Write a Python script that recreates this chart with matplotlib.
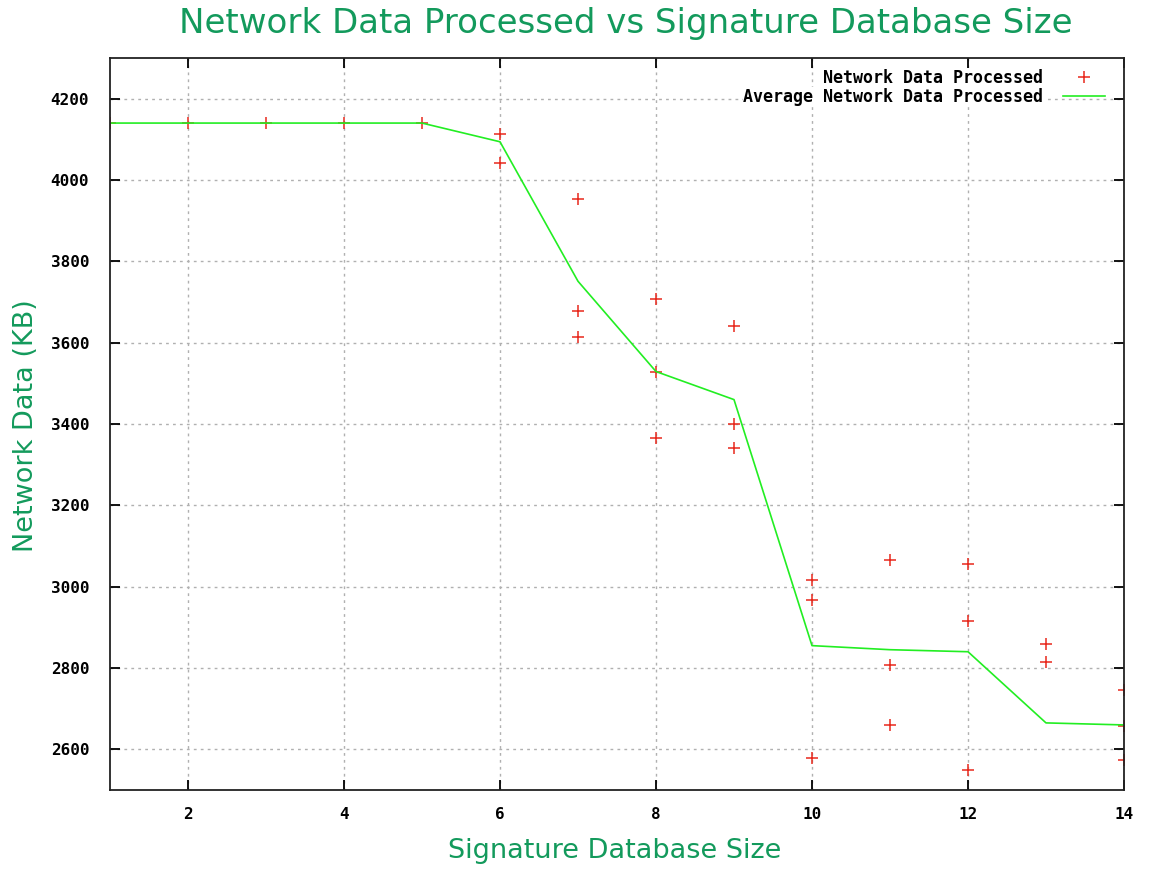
import matplotlib
matplotlib.use('Agg')
import matplotlib.pyplot as plt

# Signature database sizes and the measured network data (KB) for each run
sizes = [1, 2, 3, 4, 5, 6, 6, 7, 7, 7, 8, 8, 8, 9, 9, 9,
         10, 10, 10, 11, 11, 11, 12, 12, 12, 13, 13, 14, 14, 14]
data_kb = [4140, 4140, 4140, 4140, 4140, 4114, 4043, 3954, 3677, 3614,
           3708, 3527, 3365, 3640, 3400, 3342, 3017, 2967, 2579,
           3066, 2808, 2660, 3056, 2915, 2549, 2858, 2815, 2747, 2657, 2575]

# Average per database size
avg_sizes = [1, 2, 3, 4, 5, 6, 7, 8, 9, 10, 11, 12, 13, 14]
avg_kb = [4140, 4140, 4140, 4140, 4140, 4094, 3751, 3529, 3460,
          2855, 2845, 2840, 2665, 2660]

x_ticks = [2, 4, 6, 8, 10, 12, 14]
y_ticks = [2600, 2800, 3000, 3200, 3400, 3600, 3800, 4000, 4200]

GREEN_TXT = '#139a5c'
W, H = 1150, 871

fig = plt.figure(figsize=(W / 100, H / 100), dpi=100)
ax = fig.add_axes([110 / W, 1 - 790 / H, (1124 - 110) / W, (790 - 58) / H])

ax.plot(sizes, data_kb, linestyle='none', marker='+', color='#e8281c',
        markersize=8, markeredgewidth=1.1, label='Network Data Processed')
ax.plot(avg_sizes, avg_kb, color='#22ee22', linewidth=1.2,
        label='Average Network Data Processed')

ax.set_xlim(1, 14)
ax.set_ylim(2500, 4300)
ax.set_xticks(x_ticks)
ax.set_yticks(y_ticks)

mono = dict(family='DejaVu Sans Mono', weight='bold', size=11.5)
ax.set_xticklabels([str(v) for v in x_ticks], fontdict=mono)
ax.set_yticklabels([str(v) for v in y_ticks], fontdict=mono)
ax.tick_params(direction='in', length=7, width=1.3, top=True, right=True,
               pad=12, colors='black')
ax.tick_params(axis='y', pad=15)

for s in ax.spines.values():
    s.set_linewidth(1.3)
    s.set_color('#222222')

ax.grid(True, color='#b0b0b0', linestyle=(0, (2, 3)), linewidth=1.0)
ax.set_axisbelow(True)

# Titles in green sans
fig.text(626 / W, 1 - 23 / H, 'Network Data Processed vs Signature Database Size',
         ha='center', va='center', fontsize=24.5, color=GREEN_TXT)
fig.text(615 / W, 1 - 851 / H, 'Signature Database Size',
         ha='center', va='center', fontsize=19.5, color=GREEN_TXT)
fig.text(26 / W, 1 - 426 / H, 'Network Data (KB)', rotation=90,
         ha='center', va='center', fontsize=19.5, color=GREEN_TXT)

leg = ax.legend(loc='upper right', bbox_to_anchor=(1105 / W, 1 - 69 / H),
                bbox_transform=fig.transFigure, frameon=False, markerfirst=False,
                prop=dict(family='DejaVu Sans Mono', weight='bold', size=12),
                handlelength=2.5, handletextpad=1.2, labelspacing=0.06,
                borderpad=0, borderaxespad=0)
for t in leg.get_texts():
    t.set_bbox(dict(facecolor='white', edgecolor='none', pad=0.5))

fig.savefig('out.png', dpi=100, facecolor='white')
